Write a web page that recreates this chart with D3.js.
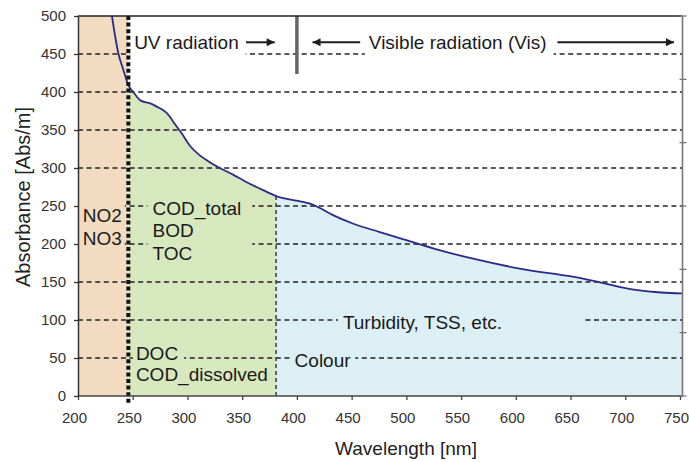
<!DOCTYPE html>
<html><head><meta charset="utf-8">
<script src="https://cdn.jsdelivr.net/npm/d3@7"></script>
<style>
html,body{margin:0;padding:0;background:#fff;}
text{font-family:"Liberation Sans", Arial, sans-serif;}
</style></head><body>
<svg id="chart" width="689" height="462"></svg>
<script>
// ---- data ----
const wavelengths = [231, 237, 241, 246, 251, 257, 266, 273, 278, 282, 288, 295, 303, 311, 319, 327, 342, 352, 363, 372, 381, 392, 403, 412, 420, 433, 451, 475, 500, 530, 560, 606, 652, 682, 700, 713, 730, 750];
const absorbance  = [500, 450, 431, 409, 399, 389, 385, 380, 376, 371, 359, 345, 328, 317, 309, 302, 291, 283, 275, 269, 263, 259, 256, 253, 248, 238, 227, 216, 205, 192, 181, 167, 157, 148, 142, 139, 136.5, 135];
const xTicks = [200, 250, 300, 350, 400, 450, 500, 550, 600, 650, 700, 750];
const yTicks = [0, 50, 100, 150, 200, 250, 300, 350, 400, 450, 500];
const gridValues = [50, 100, 150, 200, 250, 300, 350, 400, 450];
const regionLimits = [200, 246, 381, 750];   // nitrate | organics | colour/turbidity
const visibleStart = 400;
const arrowSpans = [[353.5, 379.7], [457.8, 414.3], [638, 744.5]]; // [from, to] in nm
const xTitle = "Wavelength [nm]";
const yTitle = "Absorbance [Abs/m]";

// ---- setup ----
const svg = d3.select("#chart");
const x = d3.scaleLinear().domain([200, 750]).range([78, 680]);
const y = d3.scaleLinear().domain([0, 500]).range([396, 16]);
const y2 = d3.scaleLinear().domain([0, 6]).range([396, 16]);
const xRight = x(750) + 2.5;
const colOrange = "#f2dcc1", colGreen = "#d8e8be", colBlue = "#dbeff4";
const pts = wavelengths.map((w, i) => [w, absorbance[i]]);

const defs = svg.append("defs");
[["clipGreen", x(regionLimits[1]), x(regionLimits[2])], ["clipBlue", x(regionLimits[2]), xRight]].forEach(([id, a, b]) => {
  defs.append("clipPath").attr("id", id).append("rect")
    .attr("x", a).attr("width", b - a).attr("y", y(500)).attr("height", y(0) - y(500));
});
defs.append("marker").attr("id", "arrow").attr("viewBox", "0 0 10 10")
  .attr("refX", 10).attr("refY", 5).attr("markerWidth", 10).attr("markerHeight", 8)
  .attr("markerUnits", "userSpaceOnUse").attr("orient", "auto-start-reverse")
  .append("path").attr("d", "M0,0 L10,5 L0,10 z").attr("fill", "#1e1e1e");

// orange region
svg.append("rect").attr("x", x(regionLimits[0])).attr("y", y(500))
  .attr("width", x(regionLimits[1]) - x(regionLimits[0])).attr("height", y(0) - y(500))
  .attr("fill", colOrange);

const ext = pts.concat([[750 + (xRight - x(750)) / (x(1) - x(0)), absorbance[absorbance.length - 1]]]);
const area = d3.area().x(d => x(d[0])).y0(y(0)).y1(d => y(d[1])).curve(d3.curveMonotoneX);
svg.append("path").datum(ext).attr("d", area).attr("fill", colGreen).attr("clip-path", "url(#clipGreen)");
svg.append("path").datum(ext).attr("d", area).attr("fill", colBlue).attr("clip-path", "url(#clipBlue)");

// gridlines
svg.append("g").selectAll("line").data(gridValues).join("line")
  .attr("x1", x(200)).attr("x2", xRight).attr("y1", d => y(d)).attr("y2", d => y(d))
  .attr("stroke", "#222").attr("stroke-width", 1.3).attr("stroke-dasharray", "5,3.6");

// annotation labels with background boxes
function label(lines, wx, wy, lh, fill, pad, block) {
  const g = svg.append("g");
  const texts = lines.map((t, i) => g.append("text").attr("x", x(wx)).attr("y", y(wy) + i * lh)
    .attr("font-size", 19).attr("fill", "#1a1a1a").text(t));
  const boxes = texts.map(t => t.node().getBBox());
  const drawBox = (b) => g.insert("rect", "text")
    .attr("x", b.x - pad[0]).attr("y", b.y - pad[2])
    .attr("width", b.width + pad[0] + pad[1]).attr("height", b.height + pad[2] + pad[3])
    .attr("fill", fill);
  if (block) {
    const x0 = d3.min(boxes, b => b.x), x1 = d3.max(boxes, b => b.x + b.width);
    const y0 = d3.min(boxes, b => b.y), y1 = d3.max(boxes, b => b.y + b.height);
    drawBox({x: x0, y: y0, width: x1 - x0, height: y1 - y0});
  } else boxes.forEach(drawBox);
}
label(["NO2", "NO3"], 204.3, 229.3, 23.3, colOrange, [5, 3, 2, 0], true);
label(["COD_total", "BOD", "TOC"], 268.1, 238.2, 22.5, colGreen, [5, 11, 2, 0], true);
label(["DOC"], 252.9, 47.4, 0, colGreen, [3, 6, 1, 1], false);
label(["COD_dissolved"], 252.9, 20.1, 0, colGreen, [3, 2, 0, 0], false);
label(["Colour"], 397.9, 38.6, 0, colBlue, [4, 4, 1, 1], false);
label(["Turbidity, TSS, etc."], 442, 87.8, 0, colBlue, [5, 82, 1, 1], false);
label(["UV radiation"], 251.3, 456.2, 0, "#fff", [4, 7, 2, 2], false);
label(["Visible radiation (Vis)"], 465.7, 456.2, 0, "#fff", [4, 7, 2, 2], false);

// boundary dashed line organics/colour up to the curve
const bis = d3.bisector(d => d[0]).left;
function curveAt(w) {
  const i = bis(pts, w); const a = pts[i - 1], b = pts[i];
  return a[1] + (b[1] - a[1]) * (w - a[0]) / (b[0] - a[0]);
}
svg.append("line").attr("x1", x(regionLimits[2])).attr("x2", x(regionLimits[2]))
  .attr("y1", y(0)).attr("y2", y(curveAt(regionLimits[2])))
  .attr("stroke", "#444").attr("stroke-width", 1.6).attr("stroke-dasharray", "4,3");

// curve
svg.append("path").datum(ext)
  .attr("d", d3.line().x(d => x(d[0])).y(d => y(d[1])).curve(d3.curveMonotoneX))
  .attr("fill", "none").attr("stroke", "#2a2a8a").attr("stroke-width", 1.8);

// UV limit thick dotted line
svg.append("line").attr("x1", x(regionLimits[1])).attr("x2", x(regionLimits[1]))
  .attr("y1", y(500)).attr("y2", y(0) + 9)
  .attr("stroke", "#111").attr("stroke-width", 4).attr("stroke-dasharray", "4,2.6");

// UV / Vis separator
svg.append("line").attr("x1", x(visibleStart)).attr("x2", x(visibleStart))
  .attr("y1", y(500)).attr("y2", y(423.7))
  .attr("stroke", "#666").attr("stroke-width", 3.5);

// arrows
const arrowY = y(465.4);
arrowSpans.forEach(([a, b]) => {
  svg.append("line").attr("x1", x(a)).attr("x2", x(b)).attr("y1", arrowY).attr("y2", arrowY)
    .attr("stroke", "#1e1e1e").attr("stroke-width", 2).attr("marker-end", "url(#arrow)");
});

// axes
const gx = svg.append("g").attr("transform", `translate(0,${y(0)})`)
  .call(d3.axisBottom(x).tickValues(xTicks).tickSize(4).tickSizeOuter(0).tickPadding(12));
gx.selectAll("text").attr("font-size", 15).attr("fill", "#333").attr("dx", -4)
  .style("font-family", '"Liberation Sans", Arial, sans-serif');
gx.select(".domain").attr("d", `M${x(200)},0H${xRight}`).attr("stroke", "#444").attr("stroke-width", 1.4);
gx.selectAll(".tick line").attr("stroke", "#444").attr("stroke-width", 1.3);

const gy = svg.append("g").attr("transform", `translate(${x(200)},0)`)
  .call(d3.axisLeft(y).tickValues(yTicks).tickSize(4).tickSizeOuter(0).tickPadding(8));
gy.selectAll("text").attr("font-size", 15).attr("fill", "#333")
  .style("font-family", '"Liberation Sans", Arial, sans-serif');
gy.select(".domain").attr("stroke", "#333").attr("stroke-width", 1.5);
gy.selectAll(".tick line").attr("stroke", "#333").attr("stroke-width", 1.3);

// top border
svg.append("line").attr("x1", x(200)).attr("x2", xRight).attr("y1", y(500)).attr("y2", y(500))
  .attr("stroke", "#222").attr("stroke-width", 1.4);
// right axis
svg.append("line").attr("x1", xRight).attr("x2", xRight).attr("y1", y(500)).attr("y2", y(0))
  .attr("stroke", "#777").attr("stroke-width", 1.6);
svg.append("g").selectAll("line").data(y2.ticks(6)).join("line")
  .attr("x1", xRight - 3).attr("x2", xRight + 4).attr("y1", d => y2(d)).attr("y2", d => y2(d))
  .attr("stroke", "#777").attr("stroke-width", 1.3);

// titles
svg.append("text").attr("x", 406).attr("y", 455).attr("text-anchor", "middle")
  .attr("font-size", 19).attr("fill", "#222").text(xTitle);
svg.append("text").attr("transform", "translate(30,197) rotate(-90)").attr("text-anchor", "middle")
  .attr("font-size", 20).attr("fill", "#222").text(yTitle);
</script>
</body></html>
